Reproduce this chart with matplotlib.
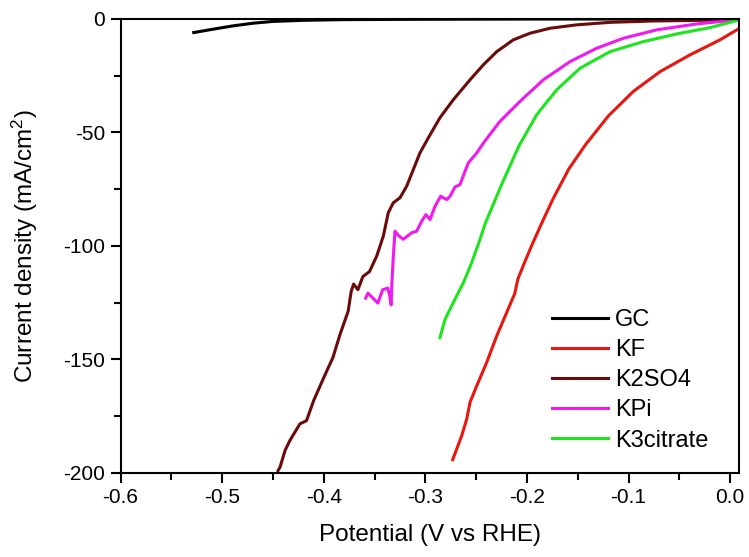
import matplotlib
matplotlib.use("Agg")
import matplotlib.pyplot as plt
from matplotlib.ticker import MultipleLocator

plt.rcParams['font.family'] = ['Liberation Sans', 'DejaVu Sans']
plt.rcParams['axes.unicode_minus'] = False
plt.rcParams['mathtext.fontset'] = 'custom'
plt.rcParams['mathtext.rm'] = 'Liberation Sans'
plt.rcParams['mathtext.it'] = 'Liberation Sans:italic'

gc_x = [-0.528, -0.51, -0.49, -0.47, -0.45, -0.42, -0.38, -0.30, -0.20, 0.0]
gc_y = [-6.0, -4.6, -3.1, -1.9, -1.1, -0.6, -0.3, -0.15, -0.05, 0.0]

kf_x = [-0.2731, -0.2642, -0.2593, -0.2560, -0.2494, -0.2396, -0.2297, -0.2200, -0.2120,
        -0.2090, -0.2030, -0.1950, -0.1850, -0.1740, -0.1588, -0.1425, -0.1196, -0.0952,
        -0.0689, -0.0394, -0.0099, 0.0082]
kf_y = [-194.2, -183.6, -176.3, -168.9, -161.6, -151.3, -139.6, -129.4, -121.0,
        -114.7, -108.0, -99.5, -89.5, -79.0, -66.1, -55.5, -42.6, -31.9,
        -23.2, -15.8, -9.2, -4.4]

k2so4_x = [-0.445, -0.443, -0.438, -0.4333, -0.4235, -0.417, -0.410, -0.400, -0.391,
           -0.384, -0.376, -0.373, -0.3706, -0.3664, -0.3615, -0.355, -0.3479, -0.3414,
           -0.3365, -0.3316, -0.325, -0.3184, -0.3119, -0.3053, -0.2971, -0.2856, -0.2725,
           -0.256, -0.2429, -0.2297, -0.2134, -0.197, -0.1773, -0.151, -0.1182, -0.0755,
           -0.0263, 0.007]
k2so4_y = [-199.0, -197.4, -190.0, -185.7, -178.4, -177.0, -168.2, -158.0, -149.2,
           -139.0, -128.8, -120.0, -116.8, -119.3, -113.5, -111.3, -104.5, -95.7,
           -85.4, -81.0, -78.8, -73.7, -66.4, -59.0, -52.4, -43.5, -35.6,
           -26.8, -20.2, -14.4, -9.2, -6.3, -4.1, -2.6, -1.5, -0.9,
           -0.6, -0.3]

kpi_x = [-0.3588, -0.3565, -0.3516, -0.3468, -0.342, -0.337, -0.335, -0.3337, -0.3331,
         -0.3316, -0.3299, -0.3266, -0.3217, -0.3135, -0.3085, -0.3036, -0.2994, -0.2954,
         -0.2905, -0.2849, -0.279, -0.2757, -0.2708, -0.2659, -0.2609, -0.2577, -0.2494,
         -0.2429, -0.2265, -0.2068, -0.1838, -0.1576, -0.1313, -0.105, -0.0722, -0.0328,
         0.0066]
kpi_y = [-123.0, -120.8, -123.0, -125.2, -119.3, -118.6, -122.0, -126.0, -118.0,
         -105.0, -93.5, -95.4, -97.1, -94.2, -93.5, -89.1, -86.2, -88.4,
         -82.5, -78.1, -79.6, -78.1, -74.0, -73.0, -67.1, -63.4, -59.0,
         -54.7, -45.1, -36.3, -26.8, -18.8, -12.9, -8.5, -4.8, -2.2,
         -0.4]

k3c_x = [-0.2856, -0.2806, -0.2725, -0.2626, -0.2544, -0.2462, -0.2410, -0.2240, -0.2078,
         -0.1904, -0.1707, -0.1477, -0.1182, -0.0854, -0.0525, -0.0197, 0.0066]
k3c_y = [-140.4, -132.3, -125.0, -116.2, -107.4, -97.1, -90.0, -72.0, -55.9,
         -42.2, -31.2, -21.7, -14.4, -10.0, -6.6, -3.8, -0.7]

fig = plt.figure(figsize=(7.49, 5.57), dpi=100)
ax = fig.add_axes([0.161, 0.151, 0.826, 0.815])

lw = 2.2
ax.plot(gc_x, gc_y, color='black', lw=lw, label='GC')
ax.plot(kf_x, kf_y, color='#e8170f', lw=lw, label='KF')
ax.plot(k2so4_x, k2so4_y, color='#6b0a0a', lw=lw, label='K2SO4')
ax.plot(kpi_x, kpi_y, color='#ee1aee', lw=lw, label='KPi')
ax.plot(k3c_x, k3c_y, color='#1ee41e', lw=lw, label='K3citrate')

ax.set_xlim(-0.6, 0.009)
ax.set_ylim(-200, 0)
ax.xaxis.set_major_locator(MultipleLocator(0.1))
ax.xaxis.set_minor_locator(MultipleLocator(0.05))
ax.yaxis.set_major_locator(MultipleLocator(50))
ax.yaxis.set_minor_locator(MultipleLocator(25))
ax.xaxis.set_major_formatter(plt.FuncFormatter(lambda v, p: f"{v:.1f}" if abs(v) > 1e-9 else "0.0"))
ax.yaxis.set_major_formatter(plt.FuncFormatter(lambda v, p: f"{int(round(v))}"))

ax.tick_params(which='major', direction='out', length=7, width=1.5, labelsize=15, pad=4)
ax.tick_params(which='minor', direction='out', length=5, width=1.5)
ax.tick_params(top=False, right=False)
for s in ax.spines.values():
    s.set_linewidth(1.5)

ax.set_xlabel('Potential (V vs RHE)', fontsize=17.5, labelpad=12)
ax.set_ylabel('Current density (mA/cm$^2$)', fontsize=17.5, labelpad=17)

leg = ax.legend(loc='lower right', bbox_to_anchor=(0.985, 0.0), frameon=False,
                fontsize=17, handlelength=2.4, handletextpad=0.3, labelspacing=0.345)

fig.savefig('out.png', dpi=100)
